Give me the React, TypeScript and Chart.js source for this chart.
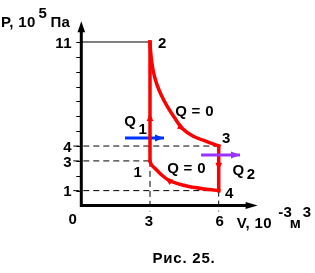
import React, { useEffect, useRef } from "react";
import { Chart, registerables } from "chart.js";

Chart.register(...registerables);

// ---------------- data ----------------
// state points of the cycle (V in 10^-3 m^3, P in 10^5 Pa)
const pointNames = ["1", "2", "3", "4"];
const pointV = [3, 3, 6, 6];
const pointP = [3, 11, 4, 1];

// adiabat 2 -> 3
const adiabat23V = [3, 3.03, 3.08, 3.16, 3.3, 3.5, 3.76, 4.05, 4.4, 4.89, 5.48, 6];
const adiabat23P = [11, 10.3, 9.6, 8.9, 8.15, 7.4, 6.65, 5.95, 5.2, 4.66, 4.3, 4];
// adiabat 4 -> 1
const adiabat41V = [6, 5.4, 4.75, 4.17, 3.8, 3.51, 3.29, 3.07, 3];
const adiabat41P = [1, 1.11, 1.26, 1.49, 1.72, 2.05, 2.39, 2.72, 3];

// axis ticks
const yTickLabels = [1, 3, 4, 11];
const yMinorTicks = [1, 2, 3, 4, 5, 6, 7, 8, 9, 10, 11];
const xTickLabels = [0, 3, 6];
const xMax = 7.7;
const yMax = 12.4;

// heat arrows
const q1V = [1.91, 3.61];
const q1P = 4.54;
const q2V = [5.23, 6.93];
const q2P = 3.4;

// flow direction arrows on the cycle: position and a point it heads toward
const flowV = [3, 4.4, 6, 3.8];
const flowP = [5.95, 5.2, 2.61, 1.72];
const flowToV = [3, 4.89, 6, 3.51];
const flowToP = [7, 4.66, 2, 2.05];

// text annotations (data coordinates of left/baseline)
const annotations = [
  { text: "Q = 0", v: 4.1, p: 6.05 },
  { text: "Q = 0", v: 3.75, p: 2.22 },
  { text: "Q", v: 1.88, p: 5.33 },
  { text: "1", v: 2.5, p: 4.78 },
  { text: "Q", v: 6.6, p: 2.03 },
  { text: "2", v: 7.22, p: 1.76 },
];

// ---------------- layout ----------------
const W = 315;
const H = 273;
const X0 = 81.3;
const XUNIT = 22.9;
const Y0 = 205.5;
const YUNIT = 14.864;

const RED = "#ff0000";
const BLUE = "#0033ff";
const PURPLE = "#9933ff";
const FONT = '"Liberation Sans", Arial, sans-serif';
const FS = 15;

const pointLabelOffsets = [
  [-16.5, 16.5],
  [8, 6.5],
  [3.3, -3.5],
  [6.3, 7],
];

const pts = (vs: number[], ps: number[]) => vs.map((v, i) => ({ x: v, y: ps[i] }));

function txt(ctx: CanvasRenderingContext2D, s: string, x: number, y: number, align: CanvasTextAlign = "left", size = FS, spacing = 0.3) {
  ctx.save();
  ctx.font = `bold ${size}px ${FONT}`;
  (ctx as any).letterSpacing = spacing + "px";
  ctx.textAlign = align;
  ctx.textBaseline = "alphabetic";
  ctx.fillStyle = "#000";
  ctx.fillText(s, x, y);
  ctx.restore();
}

function head(ctx: CanvasRenderingContext2D, tx: number, ty: number, dx: number, dy: number, len: number, hw: number, color: string) {
  const d = Math.hypot(dx, dy) || 1;
  const ux = dx / d;
  const uy = dy / d;
  const bx = tx - ux * len;
  const by = ty - uy * len;
  ctx.save();
  ctx.fillStyle = color;
  ctx.beginPath();
  ctx.moveTo(tx, ty);
  ctx.lineTo(bx - uy * hw, by + ux * hw);
  ctx.lineTo(bx + uy * hw, by - ux * hw);
  ctx.closePath();
  ctx.fill();
  ctx.restore();
}

const overlay = {
  id: "overlay",
  beforeDatasetsDraw(chart: any) {
    const ctx: CanvasRenderingContext2D = chart.ctx;
    const xs = chart.scales.x;
    const ys = chart.scales.y;
    const x0 = xs.getPixelForValue(0);
    const y0 = ys.getPixelForValue(0);
    const xr = xs.getPixelForValue(xMax);
    const yt = ys.getPixelForValue(yMax);
    ctx.save();
    ctx.strokeStyle = "#000";
    ctx.lineWidth = 3;
    ctx.beginPath();
    ctx.moveTo(x0, y0 + 1.5);
    ctx.lineTo(x0, yt + 8);
    ctx.moveTo(x0 - 1.5, y0);
    ctx.lineTo(xr - 8, y0);
    ctx.stroke();
    ctx.lineWidth = 1;
    ctx.beginPath();
    yMinorTicks.forEach((p) => {
      const y = Math.round(ys.getPixelForValue(p)) + 0.5;
      ctx.moveTo(x0 - 5, y);
      ctx.lineTo(x0, y);
    });
    ctx.stroke();
    ctx.restore();
    head(ctx, x0, yt, 0, -1, 11, 3.8, "#000");
    head(ctx, xr, y0, 1, 0, 12, 3.5, "#000");

    // tick labels
    yTickLabels.forEach((p) => txt(ctx, String(p), x0 - 9.5, ys.getPixelForValue(p) + 5.8, "right"));
    xTickLabels.forEach((v) => {
      if (v === 0) txt(ctx, "0", x0 - 8.5, y0 + 18.5, "center");
      else txt(ctx, String(v), xs.getPixelForValue(v) - 1 + (v === 6 ? 2 : 0), y0 + 20.5, "center");
    });

    // axis titles
    txt(ctx, "P, 10", x0 - 80.3, yt + 6);
    txt(ctx, "5", x0 - 42.8, yt - 3);
    txt(ctx, "Па", x0 - 30.8, yt + 6);
    txt(ctx, "V, 10", xr - 21, y0 + 22.5);
    txt(ctx, "-3", xr + 20.5, y0 + 11.5);
    txt(ctx, "м", xr + 32, y0 + 22.5);
    txt(ctx, "3", xr + 45, y0 + 11.5);
    txt(ctx, "Рис. 25.", 184, 263, "center", FS, 0.8);
  },
  afterDatasetsDraw(chart: any) {
    const ctx: CanvasRenderingContext2D = chart.ctx;
    const xs = chart.scales.x;
    const ys = chart.scales.y;
    // flow arrows
    flowV.forEach((v, i) => {
      const x = xs.getPixelForValue(v);
      const y = ys.getPixelForValue(flowP[i]);
      const dx = xs.getPixelForValue(flowToV[i]) - x;
      const dy = ys.getPixelForValue(flowToP[i]) - y;
      const d = Math.hypot(dx, dy) || 1;
      head(ctx, x + (dx / d) * 4, y + (dy / d) * 4, dx, dy, 8, 3.3, RED);
    });
    // heat arrows heads
    head(ctx, xs.getPixelForValue(q1V[1]), ys.getPixelForValue(q1P), 1, 0, 9, 3.5, BLUE);
    head(ctx, xs.getPixelForValue(q2V[1]), ys.getPixelForValue(q2P), 1, 0, 9, 3.5, PURPLE);

    // point labels
    pointNames.forEach((n, i) => {
      const x = xs.getPixelForValue(pointV[i]) + pointLabelOffsets[i][0];
      const y = ys.getPixelForValue(pointP[i]) + pointLabelOffsets[i][1];
      txt(ctx, n, x, y);
    });
    annotations.forEach((a) => txt(ctx, a.text, xs.getPixelForValue(a.v), ys.getPixelForValue(a.p)));
  },
};

export default function App() {
  const ref = useRef<HTMLCanvasElement>(null);
  useEffect(() => {
    const canvas = ref.current!;
    const guideStart = -0.35;
    const guideBottom = -0.4;
    const guides: any[] = [];
    pointNames.forEach((n, i) => {
      const solid = pointP[i] === Math.max(...pointP);
      guides.push({
        data: [{ x: solid ? 0 : guideStart, y: pointP[i] }, { x: pointV[i], y: pointP[i] }],
        borderDash: solid ? [] : [6, 4],
      });
    });
    [0, 3].forEach((i) => {
      guides.push({
        data: [{ x: pointV[i], y: pointP[i] }, { x: pointV[i], y: guideBottom }],
        borderDash: [6, 4],
      });
    });

    const common = { showLine: true, pointRadius: 0, clip: false as any, fill: false };
    const red = { ...common, borderColor: RED, borderWidth: 3.5, borderCapStyle: "square" as const, order: 1 };

    const chart = new Chart(canvas, {
      type: "scatter",
      data: {
        datasets: [
          { ...common, data: pts(q2V, [q2P, q2P]), borderColor: PURPLE, borderWidth: 3, order: 0 },
          { ...red, data: pts([pointV[0], pointV[1]], [pointP[0], pointP[1]]) },
          { ...red, data: pts(adiabat23V, adiabat23P), tension: 0.3 },
          { ...red, data: pts([pointV[2], pointV[3]], [pointP[2], pointP[3]]) },
          { ...red, data: pts(adiabat41V, adiabat41P), tension: 0.3 },
          { ...common, data: pts(q1V, [q1P, q1P]), borderColor: BLUE, borderWidth: 3, order: 2 },
          ...guides.map((g) => ({ ...common, ...g, borderColor: "#000", borderWidth: 1, order: 3 })),
        ] as any,
      },
      options: {
        animation: false,
        responsive: false,
        devicePixelRatio: 1,
        events: [],
        layout: {
          padding: {
            left: X0,
            right: W - X0 - xMax * XUNIT,
            top: Y0 - yMax * YUNIT,
            bottom: H - Y0,
          },
        },
        scales: {
          x: { type: "linear", min: 0, max: xMax, display: false },
          y: { type: "linear", min: 0, max: yMax, display: false },
        },
        plugins: { legend: { display: false }, tooltip: { enabled: false }, title: { display: false } },
      },
      plugins: [overlay],
    });
    return () => chart.destroy();
  }, []);
  return (
    <div style={{ position: "absolute", left: 0, top: 0, width: W, height: H, background: "#fff" }}>
      <canvas ref={ref} width={W} height={H} style={{ display: "block", width: W, height: H }} />
    </div>
  );
}
